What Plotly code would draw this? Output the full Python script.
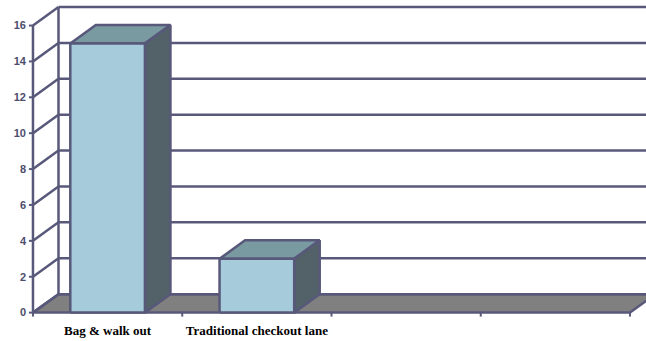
import plotly.graph_objects as go

# ---- data ----
categories = ["Bag & walk out", "Traditional checkout lane"]
values = [15, 3]
y_ticks = [0, 2, 4, 6, 8, 10, 12, 14, 16]
n_slots = 4  # category slots on the axis

# ---- style / geometry (in data units) ----
LINE = "#58587A"
FRONT = "#A6CBDB"
TOP = "#7A9AA1"
SIDE = "#536269"
FLOOR = "#808080"
DX = 0.171      # depth offset along x (data units)
DY = 1.03       # depth offset along y (data units)
BAR_W = 0.5
XMIN, XMAX = -0.04, 4.107
YMIN, YMAX = -0.3, 17.2
LW = 2.5

fig = go.Figure()

def poly(xs, ys, fill):
    fig.add_trace(go.Scatter(x=xs + [xs[0]], y=ys + [ys[0]], mode="lines", fill="toself",
                             fillcolor=fill, line=dict(color=LINE, width=LW),
                             hoverinfo="skip", showlegend=False))

def segs(pairs, width=LW):
    xs, ys = [], []
    for (x0, y0), (x1, y1) in pairs:
        xs += [x0, x1, None]
        ys += [y0, y1, None]
    fig.add_trace(go.Scatter(x=xs, y=ys, mode="lines", line=dict(color=LINE, width=width),
                             hoverinfo="skip", showlegend=False))

top_v = y_ticks[-1]

# floor
poly([0, n_slots, n_slots + DX, DX], [0, 0, DY, DY], FLOOR)

# back wall gridlines + left wall diagonals
pairs = []
for v in y_ticks:
    pairs.append(((DX, v + DY), (XMAX + 1, v + DY)))
    pairs.append(((0, v), (DX, v + DY)))
pairs.append(((DX, DY), (DX, top_v + DY)))       # back-left edge
pairs.append(((0, 0), (0, top_v)))               # front value axis
segs(pairs)

# tick marks
tick_pairs = [((0, v), (-0.027, v)) for v in y_ticks]
tick_pairs += [((i, 0), (i, -0.22)) for i in range(n_slots + 1)]
segs(tick_pairs, width=2)

# bars
for i, v in enumerate(values):
    c = i + 0.5
    x0, x1 = c - BAR_W / 2, c + BAR_W / 2
    poly([x0, x1, x1 + DX, x0 + DX], [v, v, v + DY, v + DY], TOP)
    poly([x1, x1 + DX, x1 + DX, x1], [0, DY, v + DY, v], SIDE)
    poly([x0, x1, x1, x0], [0, 0, v, v], FRONT)

fig.update_layout(
    width=646, height=341,
    margin=dict(l=27, r=0, t=4, b=23),
    paper_bgcolor="white", plot_bgcolor="white",
    xaxis=dict(range=[XMIN, XMAX], showgrid=False, zeroline=False, showline=False,
               tickvals=[i + 0.5 for i in range(len(categories))], ticktext=categories,
               ticks="", ticklabelstandoff=3,
               tickfont=dict(family="Liberation Serif, Times New Roman, serif", size=13,
                             color="black", weight="bold"),
               fixedrange=True),
    yaxis=dict(range=[YMIN, YMAX], showgrid=False, zeroline=False, showline=False,
               tickvals=y_ticks, ticks="",
               tickfont=dict(family="Liberation Sans, Arial, sans-serif", size=11,
                             color="#4D4D6D", weight="bold"),
               fixedrange=True),
)

fig.write_html("out.html")
